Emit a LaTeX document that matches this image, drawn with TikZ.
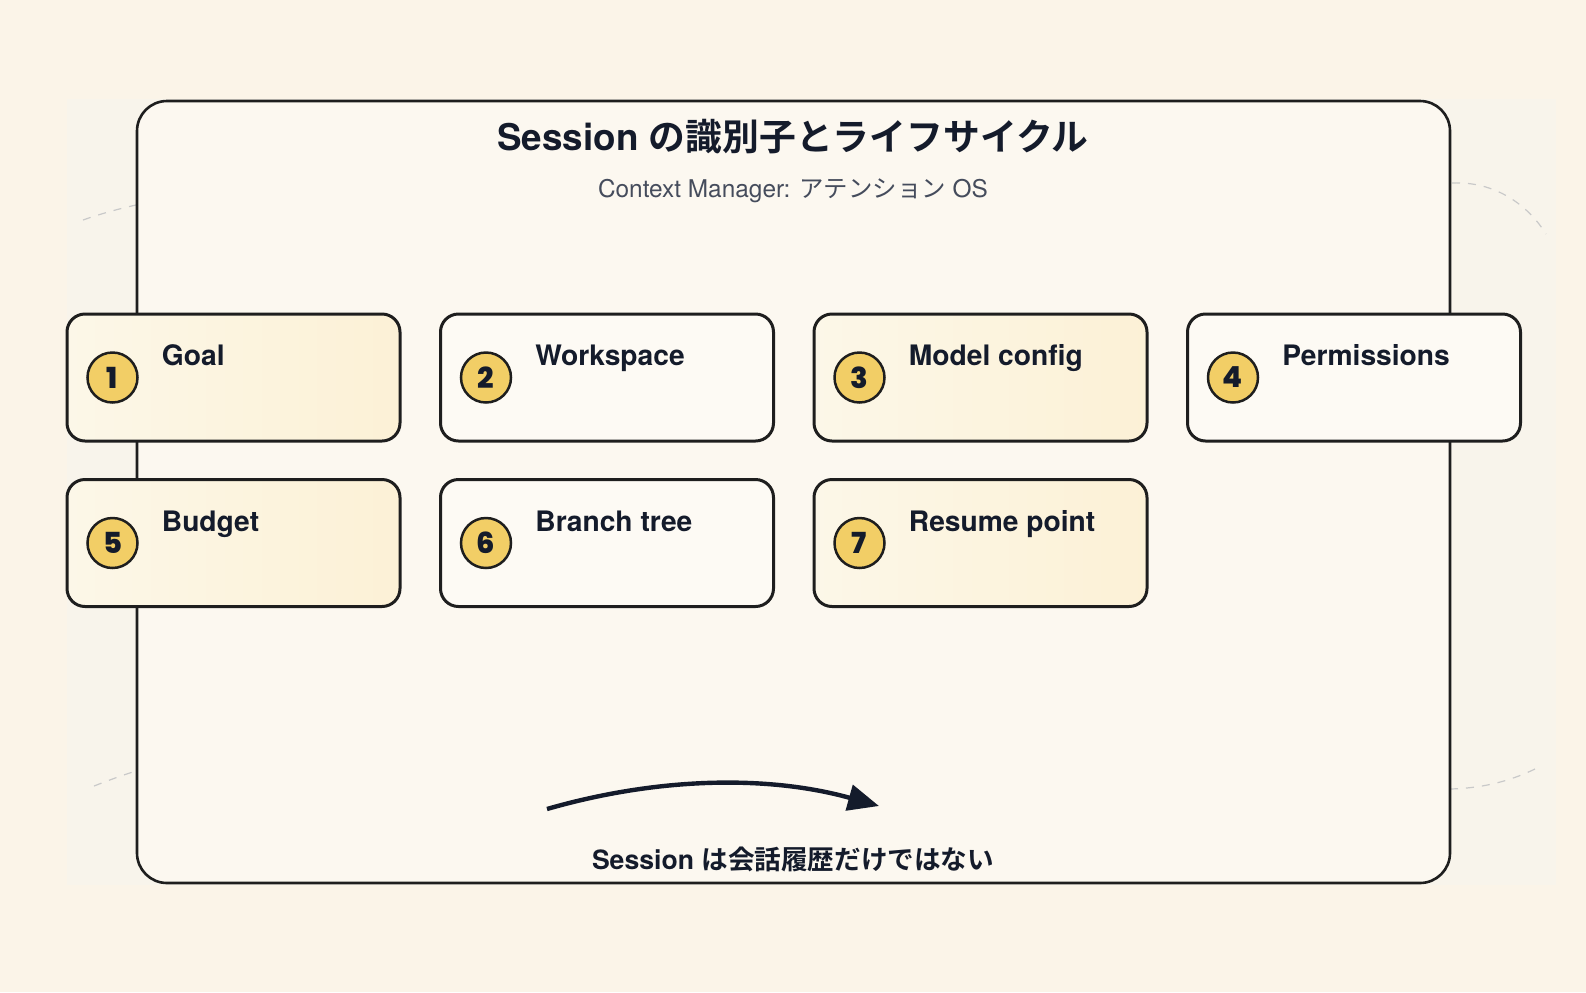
\documentclass[tikz,border=0pt]{standalone}
\usepackage{fontspec}
\setmainfont{TeX Gyre Heros}
\newfontfamily\cjk{Noto Sans CJK JP}[BoldFont={* Bold}]
\newfontfamily\numfont{Poppins}[BoldFont={* ExtraBold}]
\usetikzlibrary{arrows.meta}
\definecolor{bgout}{HTML}{FBF4E8}
\definecolor{panelbg}{HTML}{F8F4EB}
\definecolor{framebg}{HTML}{FCF8F0}
\definecolor{ink}{HTML}{141B2B}
\definecolor{stroke}{HTML}{1E1E1E}
\definecolor{subgray}{HTML}{454C5C}
\definecolor{yelL}{HTML}{FCF7E8}
\definecolor{yelR}{HTML}{FCF1D6}
\definecolor{whitebox}{HTML}{FDFAF4}
\definecolor{badge}{HTML}{F2CE66}
\definecolor{dashgray}{HTML}{C9C9C9}
\tikzset{
  cardbox/.style={draw=stroke, line width=1.5pt, rounded corners=9pt,
    minimum width=166.5pt, minimum height=63.5pt, inner sep=0pt},
  yelcard/.style={cardbox, left color=yelL, right color=yelR},
  whitecard/.style={cardbox, fill=whitebox},
  badgec/.style={circle, draw=stroke, line width=1.25pt, fill=badge,
    minimum size=25pt, inner sep=0pt, text=ink,
    font=\numfont\bfseries\fontsize{14.5}{14.5}\selectfont},
  cardlabel/.style={anchor=base west, text=ink, inner sep=0pt,
    font=\bfseries\fontsize{14.1}{16}\selectfont},
  decodash/.style={draw=dashgray, line width=0.6pt, dash pattern=on 4pt off 4pt},
}
\begin{document}
\begin{tikzpicture}[x=0.5pt,y=-0.5pt]
\useasboundingbox (0,0) rectangle (1586,992);
\fill[bgout] (0,0) rectangle (1586,992);
\fill[panelbg] (67,99) rectangle (1556,885);
% decorative dashed arcs
\draw[decodash] (83,220) .. controls (100,214) and (118,209) .. (136,205);
\draw[decodash] (94,786) .. controls (107,781) and (120,776) .. (136,771);
\draw[decodash] (1452,183) .. controls (1495,181) and (1528,205) .. (1546,234);
\draw[decodash] (1450,789) .. controls (1488,788) and (1514,779) .. (1535,769);
% frame
\draw[draw=stroke, fill=framebg, line width=1.3pt, rounded corners=15pt] (137,101) rectangle (1450,883);
% titles
\node[text=ink, font=\bfseries\fontsize{18.4}{22}\selectfont, anchor=base, inner sep=0pt] (title) at (793,150)
  {Session {\cjk\bfseries の識別子とライフサイクル}};
\node[text=subgray, font=\fontsize{12.2}{14}\selectfont, anchor=base, inner sep=0pt] (subtitle) at (793,197)
  {Context Manager: {\cjk アテンション} OS};
% cards
\node[yelcard]   (b1) at (233.5,377.5) {};
\node[whitecard] (b2) at (607,377.5) {};
\node[yelcard]   (b3) at (980.5,377.5) {};
\node[whitecard] (b4) at (1354,377.5) {};
\node[yelcard]   (b5) at (233.5,543) {};
\node[whitecard] (b6) at (607,543) {};
\node[yelcard]   (b7) at (980.5,543) {};
\foreach \b/\n/\t in {b1/1/Goal, b2/2/Workspace, b3/3/Model config, b4/4/Permissions,
                      b5/5/Budget, b6/6/Branch tree, b7/7/Resume point}{
  \node[badgec] (\b n) at ([xshift=23.5pt]\b.west) {\n};
  \node[cardlabel] (\b t) at ([xshift=48pt, yshift=-26.5pt]\b.north west) {\t};
}
% arrow
\coordinate (as) at (547,809);
\coordinate (ae) at (879,806);
\draw[draw=ink, line width=2.2pt, -{Triangle[length=15.5pt, width=13pt]}] (as) .. controls (658,777) and (768,775) .. (ae);
\node[text=ink, font=\bfseries\fontsize{13.3}{15}\selectfont, anchor=base, inner sep=0pt] (note) at (793,869)
  {Session {\cjk\bfseries は会話履歴だけではない}};
\end{tikzpicture}
\end{document}
